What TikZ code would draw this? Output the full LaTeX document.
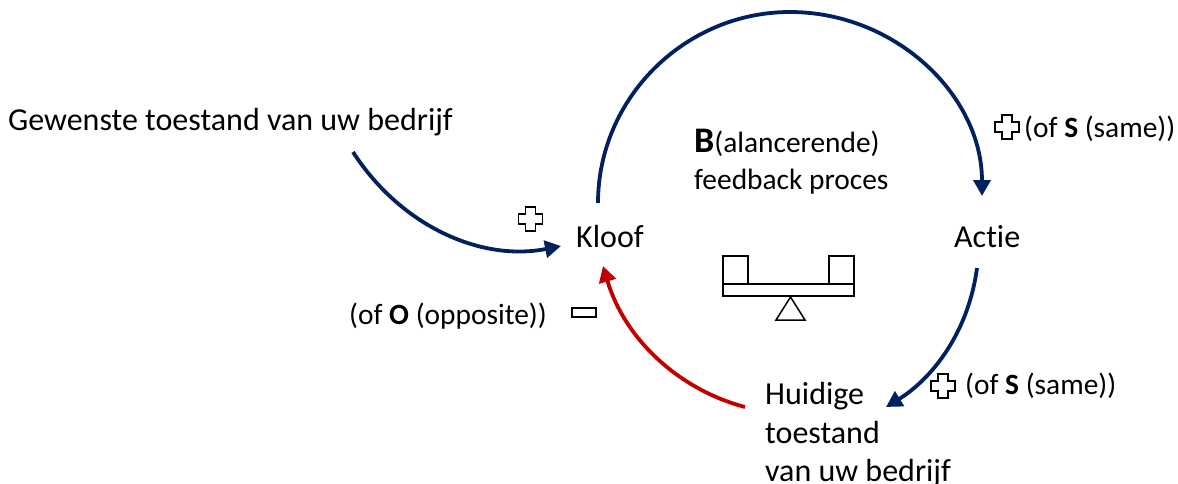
\documentclass[tikz,border=0pt]{standalone}
\usepackage{fontspec}
\setmainfont[Ligatures=NoCommon]{Carlito}
\usetikzlibrary{arrows.meta}
\definecolor{navyarc}{RGB}{0,32,96}
\definecolor{redarc}{RGB}{192,0,0}
\tikzset{
  x=1pt,y=-1pt,
  lbl/.style={anchor=base west,inner sep=0pt,text=black,font=\fontsize{32}{32}\selectfont},
  sml/.style={anchor=base west,inner sep=0pt,text=black,font=\fontsize{29.4}{29.4}\selectfont},
  flow/.style={line width=3.8pt,-{Triangle[length=16pt,width=17pt]}},
  sym/.style={draw=black,line width=1.5pt,fill=white,line join=miter},
}
\newcommand{\plusat}[2]{%
  \draw[sym] (#1-12,#2-5) -- (#1-5,#2-5) -- (#1-5,#2-12) -- (#1+5,#2-12) -- (#1+5,#2-5) -- (#1+12,#2-5) -- (#1+12,#2+5) -- (#1+5,#2+5) -- (#1+5,#2+12) -- (#1-5,#2+12) -- (#1-5,#2+5) -- (#1-12,#2+5) -- cycle;}
\begin{document}
\begin{tikzpicture}
\useasboundingbox (0,0) rectangle (1178,483);
\node[lbl] (gew) at (8,130) {Gewenste toestand van uw bedrijf};
\node[lbl] (kloof) at (576,247) {Kloof};
\node[lbl] (actie) at (954,247) {Actie};
\node[lbl] (h1) at (765,404) {Huidige};
\node[lbl] (h2) at (765,443) {toestand};
\node[lbl] (h3) at (765,481) {van uw bedrijf};
\node[anchor=base west,inner sep=0pt] (bal) at (694,152) {{\fontsize{36}{36}\selectfont\bfseries B}{\fontsize{29.4}{29.4}\selectfont(alancerende)}};
\node[sml] (fb) at (694,189) {feedback proces};
\node[sml] (opp) at (349,324) {(of \textbf{O} (opposite))};
\node[sml] (s1) at (1024,137.5) {(of \textbf{S} (same))};
\node[sml] (s2) at (965,394) {(of \textbf{S} (same))};
% connector ends
\coordinate (g0) at (353,152);
\coordinate (g1) at (561,246);
\coordinate (k0) at (598,203);
\coordinate (a1) at (982,196);
\coordinate (a0) at (977,268);
\coordinate (h1a) at (886,407);
\coordinate (h0) at (745,407);
\coordinate (k1) at (603,266);
\draw[navyarc,flow] (g0) .. controls (400,225) and (480,262) .. (g1);
\draw[navyarc,flow] (k0) .. controls (598,98) and (685,12) .. (790,12) .. controls (895,12) and (982,95) .. (a1);
\draw[navyarc,flow] (a0) .. controls (968,335) and (930,380) .. (h1a);
\draw[redarc,flow] (h0) .. controls (680,390) and (625,340) .. (k1);
% symbols
\plusat{530.5}{219}
\plusat{1007}{127}
\plusat{943}{386}
\node[sym,minimum width=24pt,minimum height=9pt,inner sep=0pt] (minus) at (584,312.5) {};
\node[sym,minimum width=25pt,minimum height=28pt,inner sep=0pt] (boxl) at (735.5,270) {};
\node[sym,minimum width=25pt,minimum height=28pt,inner sep=0pt] (boxr) at (841.5,270) {};
\node[sym,minimum width=131pt,minimum height=12pt,inner sep=0pt] (beam) at (788.5,290) {};
\draw[sym] (776,320) -- (805,320) -- (790.5,297) -- cycle;
\end{tikzpicture}
\end{document}
